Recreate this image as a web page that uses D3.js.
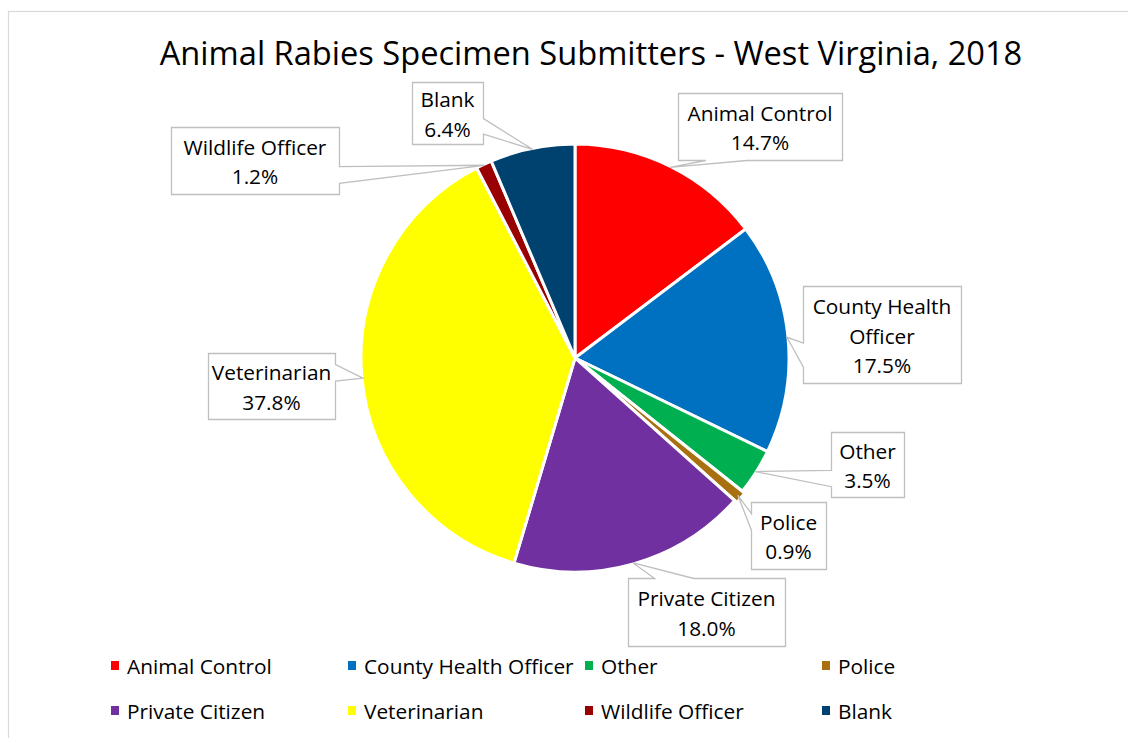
<!DOCTYPE html>
<html>
<head>
<meta charset="utf-8">
<script src="https://cdn.jsdelivr.net/npm/d3@7"></script>
<style>
  body { margin: 0; background: #fff; }
  text { font-family: "Open Sans", "Noto Sans", sans-serif; fill: #000; }
</style>
</head>
<body>
<svg id="chart" width="1128" height="738"></svg>
<script>
const title = 'Animal Rabies Specimen Submitters - West Virginia, 2018';
const categories = ['Animal Control', 'County Health Officer', 'Other', 'Police',
  'Private Citizen', 'Veterinarian', 'Wildlife Officer', 'Blank'];
const percents = [14.7, 17.5, 3.5, 0.9, 18.0, 37.8, 1.2, 6.4];
const labelLines = [['Animal Control'], ['County Health', 'Officer'], ['Other'], ['Police'],
  ['Private Citizen'], ['Veterinarian'], ['Wildlife Officer'], ['Blank']];
const colors = ['#ff0000', '#0070c0', '#00b050', '#a8700f', '#7030a0', '#ffff00', '#990000', '#00426f'];

// callout boxes (x, y, w, h) in the same order as categories
const boxes = [
  [678, 93, 164, 67], [803, 286, 158, 97], [831, 432, 73, 65], [751, 502, 75, 67],
  [628, 578, 157, 68], [208, 353, 127, 66], [171, 127, 168, 67], [412, 82, 71, 62]
];

const svg = d3.select('#chart');
const cx = 575, cy = 358, radius = 214;

// chart border
svg.append('rect')
  .attr('x', 8.5).attr('y', 11.5).attr('width', 1140).attr('height', 760)
  .attr('fill', 'none').attr('stroke', '#d9d9d9').attr('stroke-width', 1.2);

// fit a font size so a string gets a given width
const fitSize = (str, target, base) => {
  const t = svg.append('text').attr('font-size', base).text(str);
  const w = t.node().getComputedTextLength();
  t.remove();
  return base * target / w;
};
const titleSize = fitSize(title, 863, 32);
const labelSize = fitSize('Animal Control', 145, 20);

svg.append('text')
  .attr('x', 591).attr('y', 65)
  .attr('text-anchor', 'middle')
  .attr('font-size', titleSize)
  .text(title);

const pie = d3.pie().sort(null).value(d => d)(percents);
const arc = d3.arc().innerRadius(0).outerRadius(radius);

const g = svg.append('g').attr('transform', `translate(${cx},${cy})`);
g.selectAll('path')
  .data(pie)
  .join('path')
  .attr('d', arc)
  .attr('transform', (d, i) => {
    // the small Police slice sits slightly pulled out
    if (categories[i] !== 'Police') return null;
    const mid = (d.startAngle + d.endAngle) / 2;
    return `translate(${3 * Math.sin(mid)},${-3 * Math.cos(mid)})`;
  })
  .attr('fill', (d, i) => colors[i])
  .attr('stroke', '#fff')
  .attr('stroke-width', 3)
  .attr('stroke-linejoin', 'round');

// rectangle callout with a wedge pointing at (tx, ty)
function callout(x, y, w, h, tx, ty) {
  const hc = x + w / 2, vc = y + h / 2;
  const dx = tx - hc, dy = ty - vc;
  const vertical = Math.abs(dy) - Math.abs(dx * h / w) > 0;
  const r = x + w, b = y + h;
  if (vertical) {
    const x1 = x + w * (dx > 0 ? 7 : 2) / 12, x2 = x + w * (dx > 0 ? 10 : 5) / 12;
    if (dy < 0) return `M${x},${y}L${x1},${y}L${tx},${ty}L${x2},${y}L${r},${y}L${r},${b}L${x},${b}Z`;
    return `M${x},${y}L${r},${y}L${r},${b}L${x2},${b}L${tx},${ty}L${x1},${b}L${x},${b}Z`;
  }
  const y1 = y + h * (dy > 0 ? 7 : 2) / 12, y2 = y + h * (dy > 0 ? 10 : 5) / 12;
  if (dx > 0) return `M${x},${y}L${r},${y}L${r},${y1}L${tx},${ty}L${r},${y2}L${r},${b}L${x},${b}Z`;
  return `M${x},${y}L${r},${y}L${r},${b}L${x},${b}L${x},${y2}L${tx},${ty}L${x},${y1}Z`;
}

const labels = svg.append('g');
pie.forEach((d, i) => {
  const mid = (d.startAngle + d.endAngle) / 2;
  const tx = cx + 213 * Math.sin(mid), ty = cy - 213 * Math.cos(mid);
  const [bx, by, bw, bh] = boxes[i];
  labels.append('path')
    .attr('d', callout(bx + 0.5, by + 0.5, bw, bh, tx, ty))
    .attr('fill', '#fff')
    .attr('stroke', '#bfbfbf')
    .attr('stroke-width', 1.3);
  const lines = labelLines[i].concat([percents[i].toFixed(1) + '%']);
  const t = labels.append('text')
    .attr('text-anchor', 'middle')
    .attr('font-size', labelSize);
  lines.forEach((ln, k) => {
    t.append('tspan')
      .attr('x', bx + bw / 2)
      .attr('y', by + bh / 2 + (k - (lines.length - 1) / 2) * 29.5 + 1)
      .attr('dominant-baseline', 'central')
      .text(ln);
  });
});

// legend: 4 columns, 2 rows
const legX = d3.scalePoint().domain([0, 1, 2, 3]).range([115, 826]);
const legY = d3.scalePoint().domain([0, 1]).range([666, 711]);
const leg = svg.append('g')
  .selectAll('g')
  .data(categories)
  .join('g')
  .attr('transform', (d, i) => `translate(${legX(i % 4)},${legY(Math.floor(i / 4))})`);
leg.append('rect')
  .attr('x', -4).attr('y', -5).attr('width', 8).attr('height', 9)
  .attr('fill', (d, i) => colors[i]);
leg.append('text')
  .attr('x', 12)
  .attr('dominant-baseline', 'central')
  .attr('font-size', labelSize)
  .text(d => d);
</script>
</body>
</html>
